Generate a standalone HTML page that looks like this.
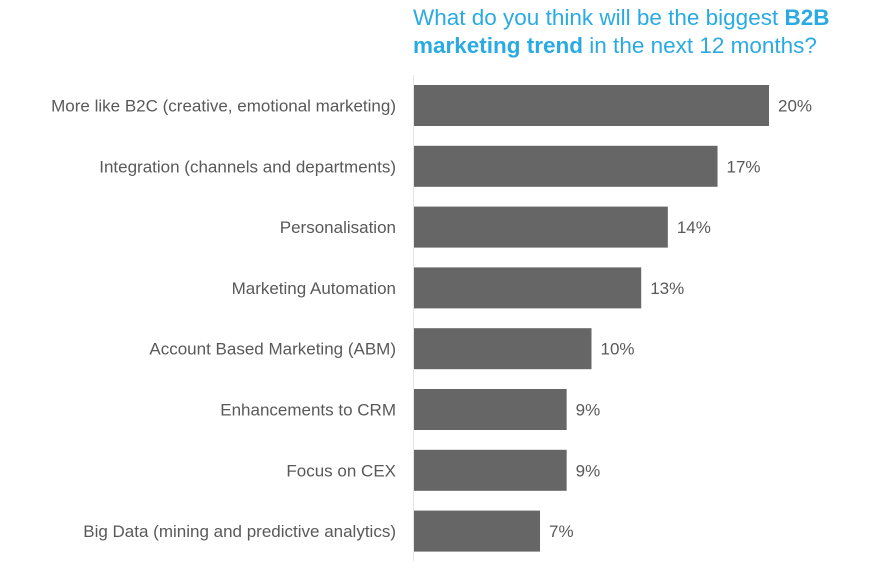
<!DOCTYPE html>
<html><head><meta charset="utf-8"><style>
body{margin:0;background:#fff;width:880px;height:571px;overflow:hidden;font-family:"Liberation Sans",sans-serif;}
.title{position:absolute;left:413px;top:4px;font-size:22.5px;line-height:28px;color:#2aaae2;white-space:nowrap;}
</style></head><body>
<div class="title">What do you think will be the biggest <b>B2B</b><br><b>marketing trend</b> in the next 12 months?</div>
<svg id="chart" width="880" height="571" style="position:absolute;left:0;top:0"></svg>
<script>
const categories=["More like B2C (creative, emotional marketing)","Integration (channels and departments)","Personalisation","Marketing Automation","Account Based Marketing (ABM)","Enhancements to CRM","Focus on CEX","Big Data (mining and predictive analytics)"];
const values=[20,17.1,14.3,12.8,10,8.6,8.6,7.1];
const valueLabels=["20%","17%","14%","13%","10%","9%","9%","7%"];
const svg=document.getElementById('chart');
const NS="http://www.w3.org/2000/svg";
const x0=414,scale=355/20,rowTop=85,pitch=60.8,barH=41;
const xAxis=v=>x0+v*scale;
const yAxis=i=>rowTop+i*pitch;
function mk(t,a){const e=document.createElementNS(NS,t);for(const k in a)e.setAttribute(k,a[k]);svg.appendChild(e);return e;}
const ax=mk('line',{x1:413.5,x2:413.5,y1:75,y2:561,stroke:'#e4e4e4','stroke-width':1});


categories.forEach((c,i)=>{
  const y=yAxis(i);
  const r=mk('rect',{x:x0,y:y,width:xAxis(values[i])-x0,height:barH,fill:'#666666'});
  
  
  const l=mk('text',{x:396,y:y+barH/2+6,'text-anchor':'end','font-size':'17px',fill:'#595959','font-family':'Liberation Sans, sans-serif'});
  l.textContent=c;
  
  
  const v=mk('text',{x:xAxis(values[i])+9,y:y+barH/2+6,'font-size':'17px',fill:'#595959','font-family':'Liberation Sans, sans-serif'});
  v.textContent=valueLabels[i];
  
  
});
</script>
</body></html>
